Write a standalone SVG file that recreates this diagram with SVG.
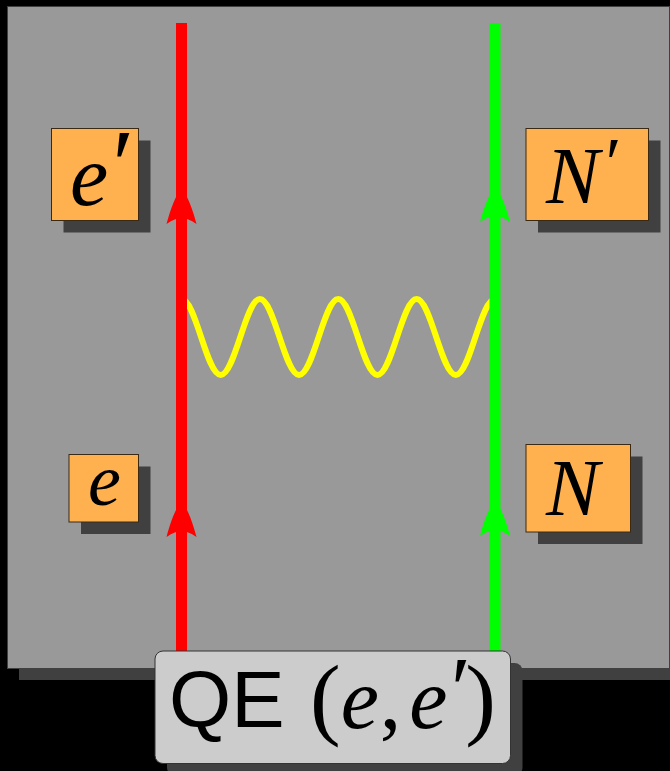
<svg xmlns="http://www.w3.org/2000/svg" width="670" height="771" viewBox="0 0 670 771">
<defs>
<style>
.shadow{fill:#404040}
.box{fill:#ffb14f;stroke:#3a2a14;stroke-width:1}
.math{font-family:"Liberation Serif","DejaVu Serif",serif;font-style:italic;fill:#000}
.up{font-family:"Liberation Serif","DejaVu Serif",serif;fill:#000;font-style:normal}
.sans{font-family:"Liberation Sans",Arial,sans-serif;fill:#000}
.line{stroke-width:11;fill:none}
</style>
<path id="arr" d="M0,0 C6,6 11,20 15,35 C9,31 4,29 0,28 C-4,29 -9,31 -15,35 C-11,20 -6,6 0,0 Z"/>
</defs>
<rect x="0" y="0" width="670" height="771" fill="#000"/>
<g id="panel">
<rect x="19" y="18" width="662" height="662" class="shadow"/>
<rect x="7.5" y="6.5" width="662" height="662" fill="#999999" stroke="#404040" stroke-width="1"/>
</g>
<g id="connectors">
<path id="photon" d="M181.5,299 C195.76,299 206.43,375 220.69,375 S245.62,299 259.88,299 S284.8,375 299.06,375 S323.99,299 338.25,299 S363.18,375 377.44,375 S402.37,299 416.63,299 S441.55,375 455.81,375 S480.74,299 495,299" fill="none" stroke="#ffff00" stroke-width="6"/>
<line id="electron" class="line" x1="181.5" y1="23" x2="181.5" y2="655" stroke="#ff0000"/>
<line id="nucleus" class="line" x1="495" y1="23" x2="495" y2="655" stroke="#00ff00"/>
<use href="#arr" x="181.5" y="189" fill="#ff0000"/>
<use href="#arr" x="181.5" y="502" fill="#ff0000"/>
<use href="#arr" x="495" y="187" fill="#00ff00"/>
<use href="#arr" x="495" y="501" fill="#00ff00"/>
</g>
<g id="node-eprime">
<rect x="63.5" y="140.5" width="87" height="92" class="shadow"/>
<rect x="51.5" y="128.5" width="87" height="92" class="box"/>
<text x="70" y="205" class="math" font-size="86">e<tspan font-size="100" dx="-2" dy="-7">′</tspan></text>
</g>
<g id="node-Nprime">
<rect x="538" y="140.5" width="122.5" height="92" class="shadow"/>
<rect x="526" y="128.5" width="122.5" height="92" class="box"/>
<text x="546" y="203" class="math" font-size="80">N<tspan font-size="72" dx="2" dy="-16">′</tspan></text>
</g>
<g id="node-e">
<rect x="81" y="466.5" width="69.5" height="67.5" class="shadow"/>
<rect x="69" y="454.5" width="69.5" height="67.5" class="box"/>
<text x="88" y="505" class="math" font-size="74">e</text>
</g>
<g id="node-N">
<rect x="538" y="456.5" width="104.5" height="87.5" class="shadow"/>
<rect x="526" y="444.5" width="104.5" height="87.5" class="box"/>
<text x="546" y="515" class="math" font-size="80">N</text>
</g>
<g id="node-QE">
<rect x="167" y="663" width="355.5" height="112.5" rx="8" class="shadow"/>
<rect x="155" y="651" width="355.5" height="112.5" rx="8" fill="#cccccc" stroke="#333" stroke-width="1"/>
<text x="169" y="727" class="sans" font-size="80">QE</text>
<text x="310" y="728" class="math" font-size="86"><tspan class="up" font-size="92">(</tspan>e<tspan class="up" dx="1">,</tspan><tspan dx="8">e</tspan><tspan font-size="90" dx="-2" dy="-8">′</tspan><tspan class="up" font-size="92" dx="0" dy="8">)</tspan></text>
</g>
</svg>
